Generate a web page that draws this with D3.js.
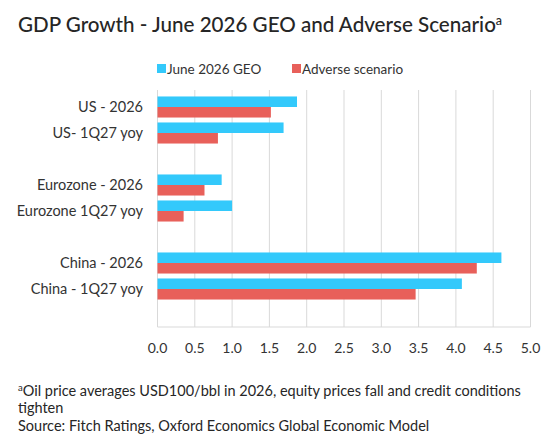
<!DOCTYPE html>
<html>
<head>
<meta charset="utf-8">
<script src="https://cdn.jsdelivr.net/npm/d3@7"></script>
<style>
  body { margin: 0; background: #fff; }
  svg { display: block; font-family: Lato, "Open Sans", sans-serif; }
</style>
</head>
<body>
<svg id="chart" width="560" height="440"></svg>
<script>
// categories top to bottom, blank names = empty spacer rows
const categories = ["US - 2026", "US- 1Q27 yoy", " ", "Eurozone - 2026", "Eurozone 1Q27 yoy", "  ", "China - 2026", "China - 1Q27 yoy", "   "];
const geo      = [1.87, 1.69, null, 0.86, 1.00, null, 4.61, 4.08, null];
const adverse  = [1.52, 0.81, null, 0.63, 0.35, null, 4.28, 3.46, null];
const seriesNames = ["June 2026 GEO", "Adverse scenario"];
const xTicks = [0, 0.5, 1, 1.5, 2, 2.5, 3, 3.5, 4, 4.5, 5];

const colors = ["#33c9fb", "#e8605a"];
const svg = d3.select("#chart");

const x = d3.scaleLinear().domain([0, 5]).range([157.5, 530.5]);
const y = d3.scaleBand().domain(categories).range([94, 328]).paddingInner(0.19).paddingOuter(0.095);
const sub = d3.scaleBand().domain([0, 1]).range([0, y.bandwidth()]);

// title
const title = svg.append("text")
  .attr("x", 18).attr("y", 32)
  .attr("fill", "#262626")
  .style("font-size", "20.6px")
  .style("font-weight", "500")
  .text("GDP Growth - June 2026 GEO and Adverse Scenario");
title.append("tspan").attr("dy", -7).style("font-size", "12.5px").text("a");

// legend
const legend = svg.append("g");
[[157, 167], [292, 302]].forEach((p, i) => {
  legend.append("rect").attr("x", p[0]).attr("y", 64).attr("width", 9).attr("height", 9).attr("fill", colors[i]);
  legend.append("text").attr("x", p[1]).attr("y", 73.5).attr("fill", "#333")
    .style("font-size", "13.5px").text(seriesNames[i]);
});

// grid
const plotTop = 90, plotBottom = 327;
svg.append("g").selectAll("line").data(xTicks).join("line")
  .attr("x1", d => x(d)).attr("x2", d => x(d))
  .attr("y1", plotTop).attr("y2", plotBottom)
  .attr("stroke", "#d9d9d9").attr("stroke-width", 1);
svg.append("line")
  .attr("x1", x(0)).attr("x2", x(5)).attr("y1", plotBottom).attr("y2", plotBottom)
  .attr("stroke", "#d9d9d9");

// x tick labels
svg.append("g").selectAll("text").data(xTicks).join("text")
  .attr("x", d => x(d)).attr("y", 353)
  .attr("text-anchor", "middle").attr("fill", "#333")
  .style("font-size", "14px")
  .text(d => d3.format(".1f")(d));

// category labels
svg.append("g").selectAll("text").data(categories.filter(c => c.trim() !== "")).join("text")
  .attr("x", 143).attr("y", d => y(d) + y.bandwidth() / 2 + 5)
  .attr("text-anchor", "end").attr("fill", "#333")
  .style("font-size", "14.5px")
  .text(d => d);

// bars
const rows = categories.map((c, i) => ({ c, vals: [geo[i], adverse[i]] })).filter(r => r.vals[0] != null);
svg.append("g").selectAll("g").data(rows).join("g")
  .attr("transform", d => `translate(0,${y(d.c)})`)
  .selectAll("rect").data(d => d.vals.map((v, k) => ({ v, k }))).join("rect")
  .attr("x", x(0)).attr("y", d => sub(d.k))
  .attr("width", d => x(d.v) - x(0)).attr("height", sub.bandwidth())
  .attr("fill", d => colors[d.k]);

// footnotes
const notes = [
  "Oil price averages USD100/bbl in 2026, equity prices fall and credit conditions",
  "tighten",
  "Source: Fitch Ratings, Oxford Economics Global Economic Model"
];
const foot = svg.append("g").attr("fill", "#262626").style("font-size", "14.5px");
const first = foot.append("text").attr("x", 18).attr("y", 396);
first.append("tspan").attr("dy", -5).style("font-size", "9.5px").text("a");
first.append("tspan").attr("dy", 5).text(notes[0]);
foot.append("text").attr("x", 18).attr("y", 413).text(notes[1]);
foot.append("text").attr("x", 18).attr("y", 431).text(notes[2]);
</script>
</body>
</html>
